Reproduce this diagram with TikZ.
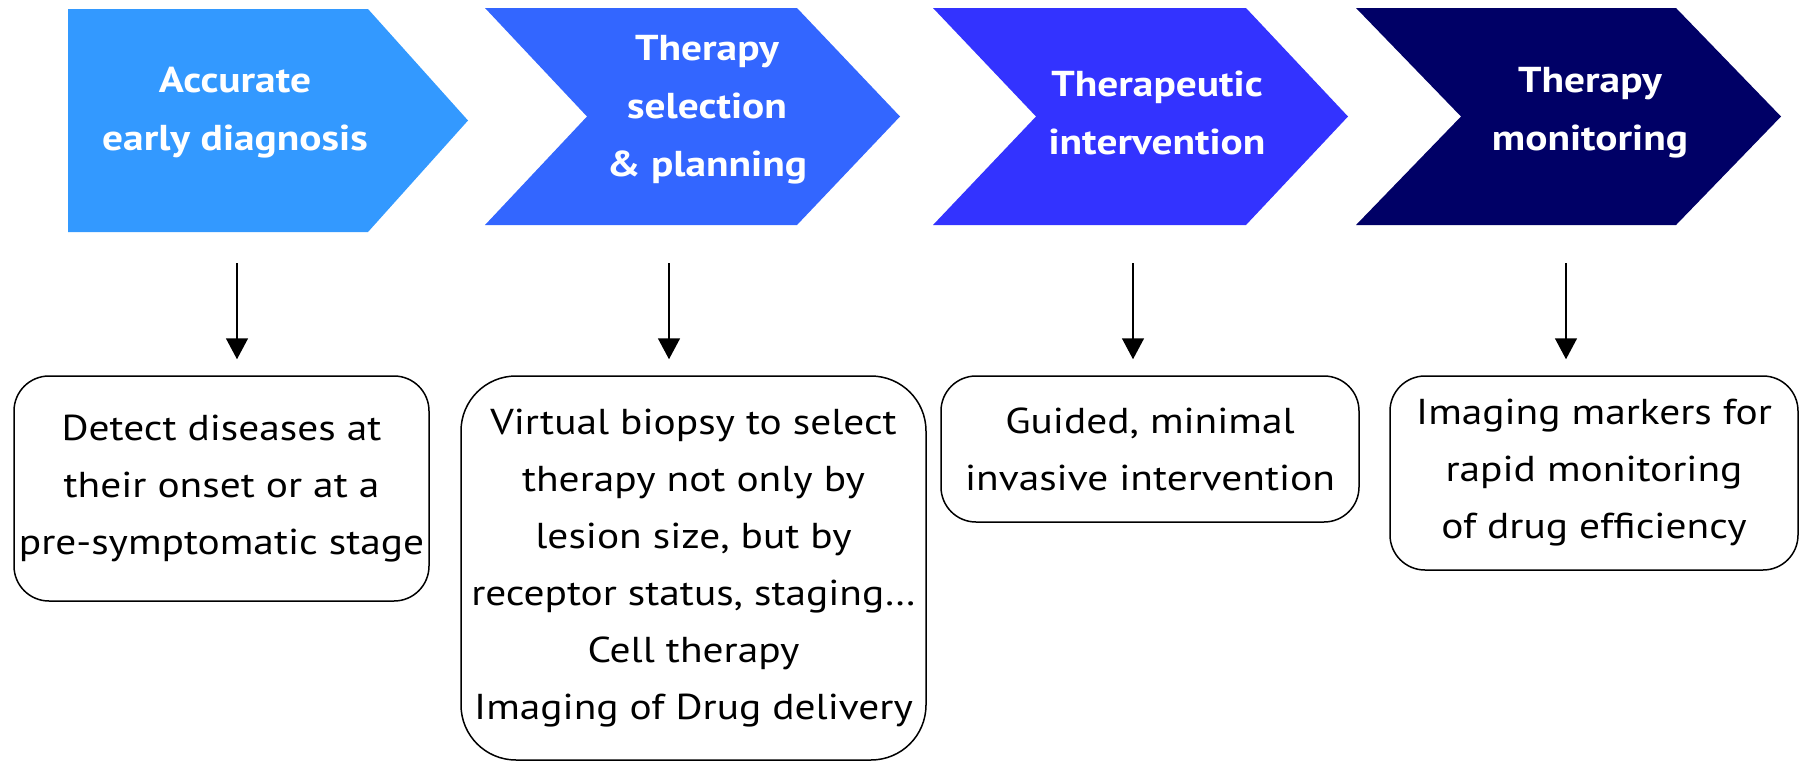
\documentclass[tikz,border=0pt]{standalone}
\usepackage{fontspec}
\setmainfont{PT Sans}[FakeStretch=1.15]
\usetikzlibrary{arrows.meta,calc}
\tikzset{>={Triangle[length=21pt,width=22pt]}}
\definecolor{stageA}{HTML}{3399FF}
\definecolor{stageB}{HTML}{3366FF}
\definecolor{stageC}{HTML}{3333FF}
\definecolor{stageD}{HTML}{000066}
% left, notch, shoulder, tip, top, bottom, colour
\newcommand\chevron[7]{
    \fill[#7] (#1,#5) -- (#3,#5) -- (#4,{(#5+#6)/2}) -- (#3,#6)
        -- (#1,#6) -- (#2,{(#5+#6)/2}) -- cycle;
}
\tikzset{
    stagetext/.style={text=white,align=center,inner sep=0pt,
        font=\fontsize{36}{58}\selectfont\bfseries},
    goalbox/.style={draw,line width=1.5pt,align=center,inner sep=0pt,
        font=\fontsize{36}{57}\selectfont},
}

\begin{document}
\begin{tikzpicture}[x=1pt,y=-1pt]
        \useasboundingbox (0,0) rectangle (1799,763);

        \chevron{68}{68}{368}{468}{9}{232}{stageA}
        \chevron{485}{587}{797}{900}{8}{225}{stageB}
        \chevron{933}{1036}{1246}{1348}{8}{225}{stageC}
        \chevron{1356}{1461}{1676}{1781}{8}{225}{stageD}

        \node[stagetext] (c1) at (235,113) {Accurate\\early diagnosis};
        \node[stagetext] (c2) at (707,110) {Therapy\\selection\\\& planning};
        \node[stagetext] (c3) at (1157,113) {Therapeutic\\intervention};
        \node[stagetext] (c4) at (1590,113) {Therapy\\monitoring};

        \node[goalbox,rounded corners=35pt,minimum width=415pt,minimum height=225pt]
            (g1) at (221.5,488.5) {Detect diseases at\\their onset or at a\\pre-symptomatic stage};
        \node[goalbox,rounded corners=55pt,minimum width=465pt,minimum height=384pt]
            (g2) at (693.5,568) {Virtual biopsy to select\\therapy not only by\\lesion size, but by\\receptor status, staging…\\Cell therapy\\Imaging of Drug delivery};
        \node[goalbox,rounded corners=35pt,minimum width=418pt,minimum height=146pt]
            (g3) at (1150,449) {Guided, minimal\\invasive intervention};
        \node[goalbox,rounded corners=35pt,minimum width=408pt,minimum height=194pt]
            (g4) at (1594,473) {Imaging markers for\\rapid monitoring\\of drug efficiency};

        \coordinate (d1) at (237,263);
        \coordinate (d2) at (669,263);
        \coordinate (d3) at (1133,263);
        \coordinate (d4) at (1566,263);

        \draw[->,line width=1.5pt] (d1) -- ($(d1 |- g1.north)+(0,-16)$);
        \draw[->,line width=1.5pt] (d2) -- ($(d2 |- g2.north)+(0,-16)$);
        \draw[->,line width=1.5pt] (d3) -- ($(d3 |- g3.north)+(0,-16)$);
        \draw[->,line width=1.5pt] (d4) -- ($(d4 |- g4.north)+(0,-16)$);
    \end{tikzpicture}
\end{document}
